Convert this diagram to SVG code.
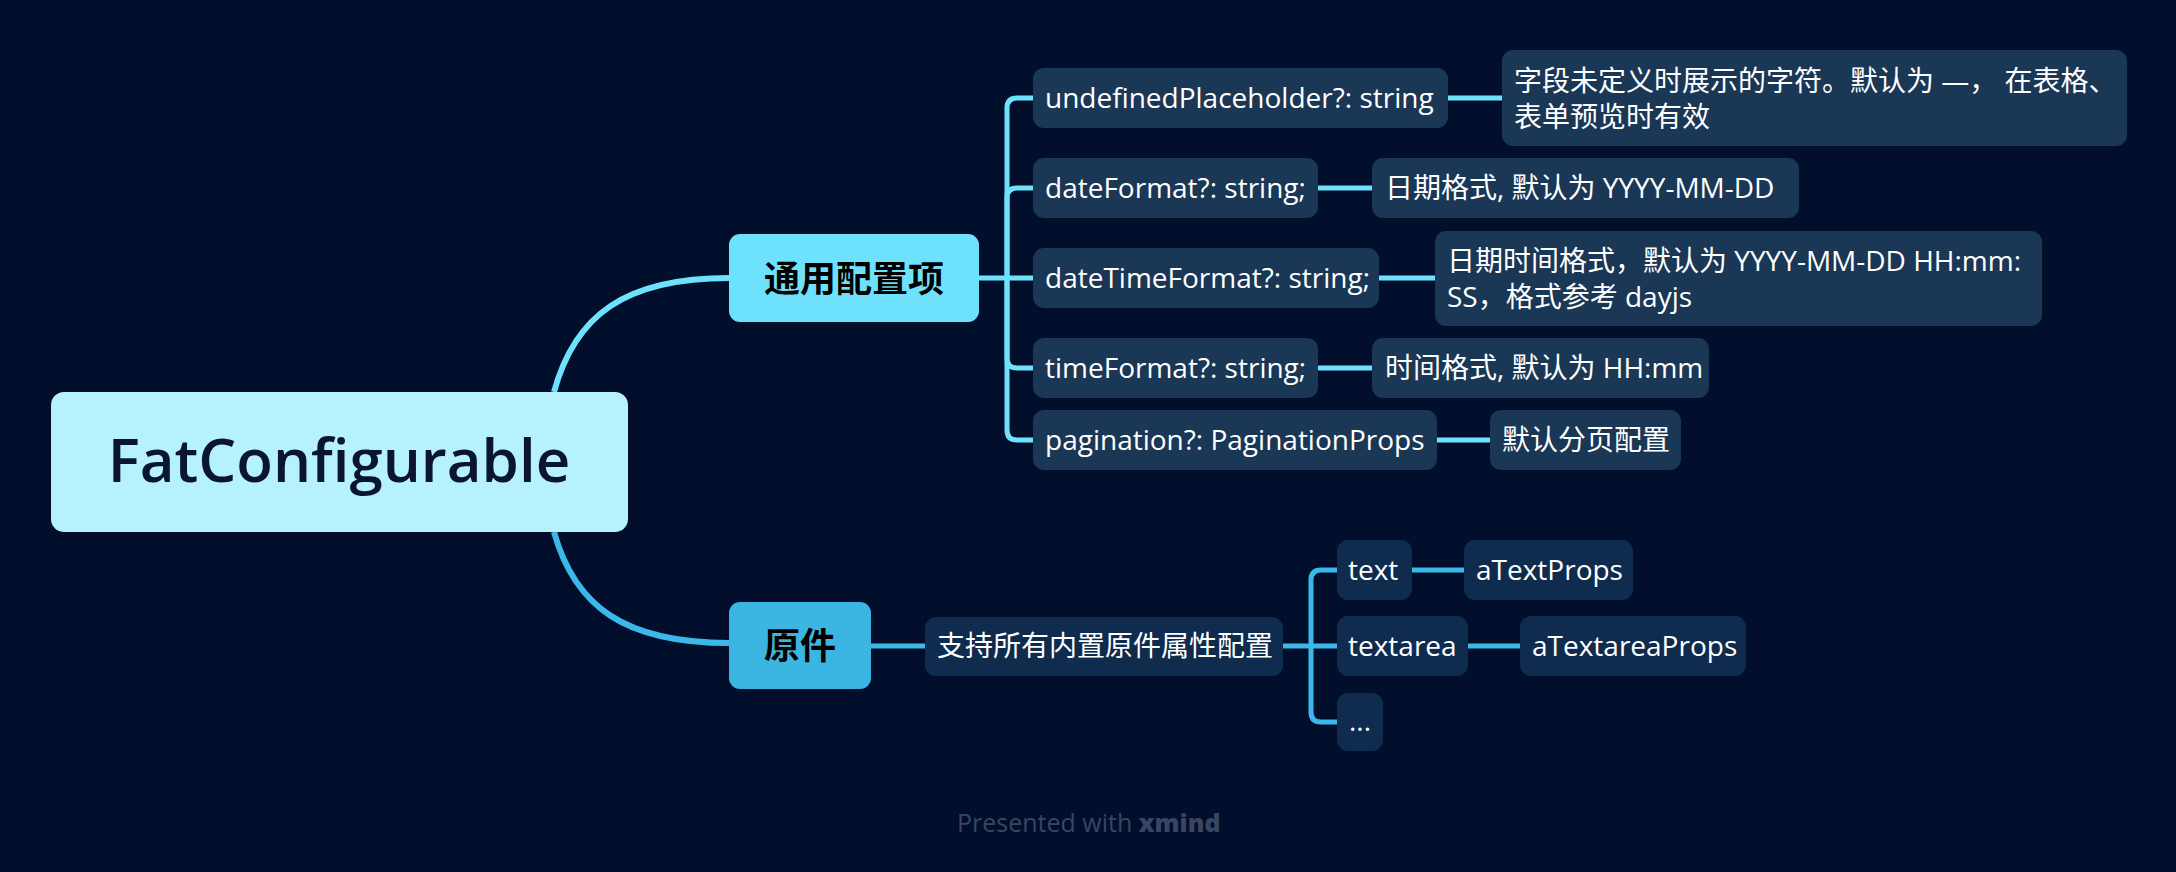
<svg xmlns="http://www.w3.org/2000/svg" width="2176" height="872" viewBox="0 0 2176 872">
<style>
.bg{fill:#010E2C}
.t{font-family:"Open Sans","Noto Sans CJK SC",sans-serif;font-size:28px;fill:#FFFFFF}
.n2a{fill:#1A3756}
.n2b{fill:#0F2C4F}
.la{fill:none;stroke:#6EE2FC;stroke-width:5;stroke-linecap:round}
.lb{fill:none;stroke:#3CB8E8;stroke-width:5;stroke-linecap:round}
</style>
<rect class="bg" x="0" y="0" width="2176" height="872"/>
<g id="connectors">
  <path d="M554,392 C575,315 625,278 729,278" fill="none" stroke="#6EE2FC" stroke-width="6"/>
  <path d="M554,532 C575,607 625,643 729,643" fill="none" stroke="#3CB8E8" stroke-width="6"/>
  <path class="la" d="M979,278 H1033"/>
  <path class="la" d="M1007,278 V108 Q1007,98 1017,98 H1033"/>
  <path class="la" d="M1007,278 V198 Q1007,188 1017,188 H1033"/>
  <path class="la" d="M1007,278 V358 Q1007,368 1017,368 H1033"/>
  <path class="la" d="M1007,278 V430 Q1007,440 1017,440 H1033"/>
  <path class="la" d="M1448,98 H1502"/>
  <path class="la" d="M1318,188 H1372"/>
  <path class="la" d="M1379,278 H1435"/>
  <path class="la" d="M1318,368 H1372"/>
  <path class="la" d="M1437,440 H1490"/>
  <path class="lb" d="M871,646 H925"/>
  <path class="lb" d="M1283,646 H1337"/>
  <path class="lb" d="M1311,646 V580 Q1311,570 1321,570 H1337"/>
  <path class="lb" d="M1311,646 V712 Q1311,722 1321,722 H1337"/>
  <path class="lb" d="M1412,570 H1464"/>
  <path class="lb" d="M1468,646 H1520"/>
</g>
<g id="root">
  <rect x="51" y="392" width="577" height="140" rx="13" fill="#B6F2FC"/>
  <text x="339" y="482" text-anchor="middle" font-family="Open Sans, Noto Sans CJK SC, sans-serif" font-size="60" font-weight="600" fill="#0A1433">FatConfigurable</text>
</g>
<g id="general">
  <rect x="729" y="234" width="250" height="88" rx="11" fill="#6EE2FC"/>
  <text x="854" y="292" text-anchor="middle" font-family="Noto Sans CJK SC, sans-serif" font-size="36" font-weight="bold" fill="#000000">通用配置项</text>
</g>
<g id="primitive">
  <rect x="729" y="602" width="142" height="87" rx="11" fill="#3BB5E2"/>
  <text x="800" y="659" text-anchor="middle" font-family="Noto Sans CJK SC, sans-serif" font-size="36" font-weight="bold" fill="#000000">原件</text>
</g>
<g id="undefinedPlaceholder">
  <rect class="n2a" x="1033" y="68" width="415" height="60" rx="11"/>
  <text class="t" x="1045" y="108">undefinedPlaceholder?: string</text>
</g>
<g id="undefinedPlaceholder-desc">
  <rect class="n2a" x="1502" y="50" width="625" height="96" rx="11"/>
  <text class="t" x="1514" y="91">字段未定义时展示的字符。默认为 —， 在表格、</text>
  <text class="t" x="1514" y="127">表单预览时有效</text>
</g>
<g id="dateFormat">
  <rect class="n2a" x="1033" y="158" width="285" height="60" rx="11"/>
  <text class="t" x="1045" y="198">dateFormat?: string;</text>
</g>
<g id="dateFormat-desc">
  <rect class="n2a" x="1372" y="158" width="427" height="60" rx="11"/>
  <text class="t" x="1385" y="198">日期格式, 默认为 YYYY-MM-DD</text>
</g>
<g id="dateTimeFormat">
  <rect class="n2a" x="1033" y="248" width="346" height="60" rx="11"/>
  <text class="t" x="1045" y="288">dateTimeFormat?: string;</text>
</g>
<g id="dateTimeFormat-desc">
  <rect class="n2a" x="1435" y="231" width="607" height="95" rx="11"/>
  <text class="t" x="1447" y="271">日期时间格式，默认为 YYYY-MM-DD HH:mm:</text>
  <text class="t" x="1447" y="307">SS，格式参考 dayjs</text>
</g>
<g id="timeFormat">
  <rect class="n2a" x="1033" y="338" width="285" height="60" rx="11"/>
  <text class="t" x="1045" y="378">timeFormat?: string;</text>
</g>
<g id="timeFormat-desc">
  <rect class="n2a" x="1372" y="338" width="337" height="60" rx="11"/>
  <text class="t" x="1385" y="378">时间格式, 默认为 HH:mm</text>
</g>
<g id="pagination">
  <rect class="n2a" x="1033" y="410" width="404" height="60" rx="11"/>
  <text class="t" x="1045" y="450">pagination?: PaginationProps</text>
</g>
<g id="pagination-desc">
  <rect class="n2a" x="1490" y="410" width="191" height="60" rx="11"/>
  <text class="t" x="1502" y="450">默认分页配置</text>
</g>
<g id="support-all">
  <rect class="n2b" x="925" y="617" width="358" height="59" rx="11"/>
  <text class="t" x="937" y="656">支持所有内置原件属性配置</text>
</g>
<g id="text">
  <rect class="n2b" x="1337" y="540" width="75" height="60" rx="11"/>
  <text class="t" x="1348" y="580">text</text>
</g>
<g id="aTextProps">
  <rect class="n2b" x="1464" y="540" width="169" height="60" rx="11"/>
  <text class="t" x="1476" y="580">aTextProps</text>
</g>
<g id="textarea">
  <rect class="n2b" x="1337" y="616" width="131" height="60" rx="11"/>
  <text class="t" x="1348" y="656">textarea</text>
</g>
<g id="aTextareaProps">
  <rect class="n2b" x="1520" y="616" width="226" height="60" rx="11"/>
  <text class="t" x="1532" y="656">aTextareaProps</text>
</g>
<g id="more">
  <rect class="n2b" x="1337" y="693" width="46" height="58" rx="11"/>
  <text class="t" x="1349" y="731">...</text>
</g>
<g id="footer">
  <text x="957" y="832" font-family="Open Sans, sans-serif" font-size="25" fill="#3A4563">Presented with <tspan font-weight="800">xmind</tspan></text>
</g>
</svg>
